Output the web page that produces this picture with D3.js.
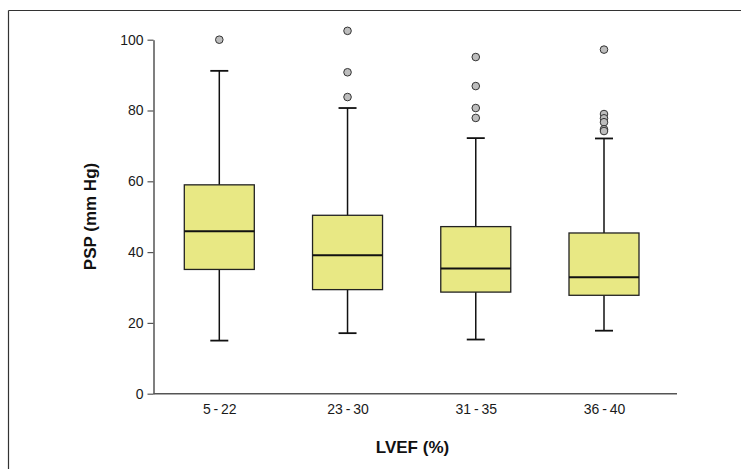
<!DOCTYPE html>
<html>
<head>
<meta charset="utf-8">
<script src="https://cdn.jsdelivr.net/npm/d3@7"></script>
<style>
  html, body { margin: 0; padding: 0; background: #fff; }
  svg { display: block; }
</style>
</head>
<body>
<svg id="chart" width="741" height="469"></svg>
<script>
// ---- data ----
const categories = ["5-22", "23-30", "31-35", "36-40"];
const whiskerLow  = [15.0, 17.1, 15.3, 17.8];
const q1          = [35.1, 29.4, 28.7, 27.8];
const median      = [45.9, 39.1, 35.4, 32.9];
const q3          = [59.0, 50.4, 47.2, 45.4];
const whiskerHigh = [91.2, 80.7, 72.2, 72.1];
const outliers = [
  [100.0],
  [102.5, 90.8, 83.8],
  [95.1, 86.9, 80.7, 77.9],
  [97.2, 79.0, 77.8, 76.7, 74.7, 74.2]
];
const yTicks = [0, 20, 40, 60, 80, 100];
const yTitle = "PSP (mm Hg)";
const xTitle = "LVEF (%)";

// ---- layout ----
const svg = d3.select("#chart");
const axisLeftX = 153.5, axisRightX = 677;
const y = d3.scaleLinear().domain([0, 100]).range([393.7, 39.7]);
const x = d3.scalePoint().domain(categories).range([219.3, 604]);
const boxW = 70, capW = 18;
const font = "Arial, 'Liberation Sans', Helvetica, sans-serif";

// frame (top and left rules)
svg.append("line").attr("x1", 8.5).attr("x2", 741).attr("y1", 10.5).attr("y2", 10.5)
  .attr("stroke", "#333").attr("stroke-width", 1.2);
svg.append("line").attr("x1", 8.5).attr("x2", 8.5).attr("y1", 10.5).attr("y2", 469)
  .attr("stroke", "#333").attr("stroke-width", 1.2);

// y axis
const yAxis = svg.append("g").attr("transform", `translate(${axisLeftX},0)`)
  .call(d3.axisLeft(y).tickValues(yTicks).tickSize(6).tickSizeOuter(0).tickPadding(4));
yAxis.select(".domain").attr("stroke", "#555").attr("stroke-width", 1.5);
yAxis.selectAll(".tick line").attr("stroke", "#555").attr("stroke-width", 1.2);
yAxis.selectAll(".tick text").attr("font-family", font).attr("font-size", 14).attr("fill", "#1a1a1a");

// x axis (baseline + labels)
svg.append("line").attr("x1", axisLeftX).attr("x2", axisRightX)
  .attr("y1", y(0)).attr("y2", y(0)).attr("stroke", "#555").attr("stroke-width", 1.5);
const xAxis = svg.append("g").attr("transform", `translate(0,${y(0)})`)
  .call(d3.axisBottom(x).tickSize(0).tickPadding(10)
    .tickFormat(d => d.replace("-", "\u2009-\u2009")));
xAxis.select(".domain").remove();
xAxis.selectAll(".tick text").attr("font-family", font).attr("font-size", 14).attr("fill", "#1a1a1a");

// titles
svg.append("text").attr("transform", `translate(96,216.5) rotate(-90)`)
  .attr("text-anchor", "middle").attr("font-family", font).attr("font-size", 17)
  .attr("font-weight", "bold").attr("fill", "#111").text(yTitle);
svg.append("text").attr("x", 412.5).attr("y", 452.5)
  .attr("text-anchor", "middle").attr("font-family", font).attr("font-size", 17)
  .attr("font-weight", "bold").attr("fill", "#111").text(xTitle);

// boxes
const data = categories.map((c, i) => ({
  c, lo: whiskerLow[i], q1: q1[i], med: median[i], q3: q3[i], hi: whiskerHigh[i], out: outliers[i]
}));
const g = svg.selectAll("g.box").data(data).join("g").attr("class", "box");

// whiskers
g.append("line").attr("x1", d => x(d.c)).attr("x2", d => x(d.c))
  .attr("y1", d => y(d.q3)).attr("y2", d => y(d.hi)).attr("stroke", "#111").attr("stroke-width", 1.5);
g.append("line").attr("x1", d => x(d.c)).attr("x2", d => x(d.c))
  .attr("y1", d => y(d.q1)).attr("y2", d => y(d.lo)).attr("stroke", "#111").attr("stroke-width", 1.5);
g.append("line").attr("x1", d => x(d.c) - capW / 2).attr("x2", d => x(d.c) + capW / 2)
  .attr("y1", d => y(d.hi)).attr("y2", d => y(d.hi)).attr("stroke", "#111").attr("stroke-width", 1.8);
g.append("line").attr("x1", d => x(d.c) - capW / 2).attr("x2", d => x(d.c) + capW / 2)
  .attr("y1", d => y(d.lo)).attr("y2", d => y(d.lo)).attr("stroke", "#111").attr("stroke-width", 1.8);

// box
g.append("rect").attr("x", d => x(d.c) - boxW / 2).attr("width", boxW)
  .attr("y", d => y(d.q3)).attr("height", d => y(d.q1) - y(d.q3))
  .attr("fill", "#e8e884").attr("stroke", "#222").attr("stroke-width", 1.3);
// median
g.append("line").attr("x1", d => x(d.c) - boxW / 2).attr("x2", d => x(d.c) + boxW / 2)
  .attr("y1", d => y(d.med)).attr("y2", d => y(d.med)).attr("stroke", "#111").attr("stroke-width", 2);

// outliers
g.selectAll("circle").data(d => d.out.map(v => ({ c: d.c, v }))).join("circle")
  .attr("cx", d => x(d.c)).attr("cy", d => y(d.v)).attr("r", 3.8)
  .attr("fill", "#bdbdbd").attr("stroke", "#333").attr("stroke-width", 1);
</script>
</body>
</html>
